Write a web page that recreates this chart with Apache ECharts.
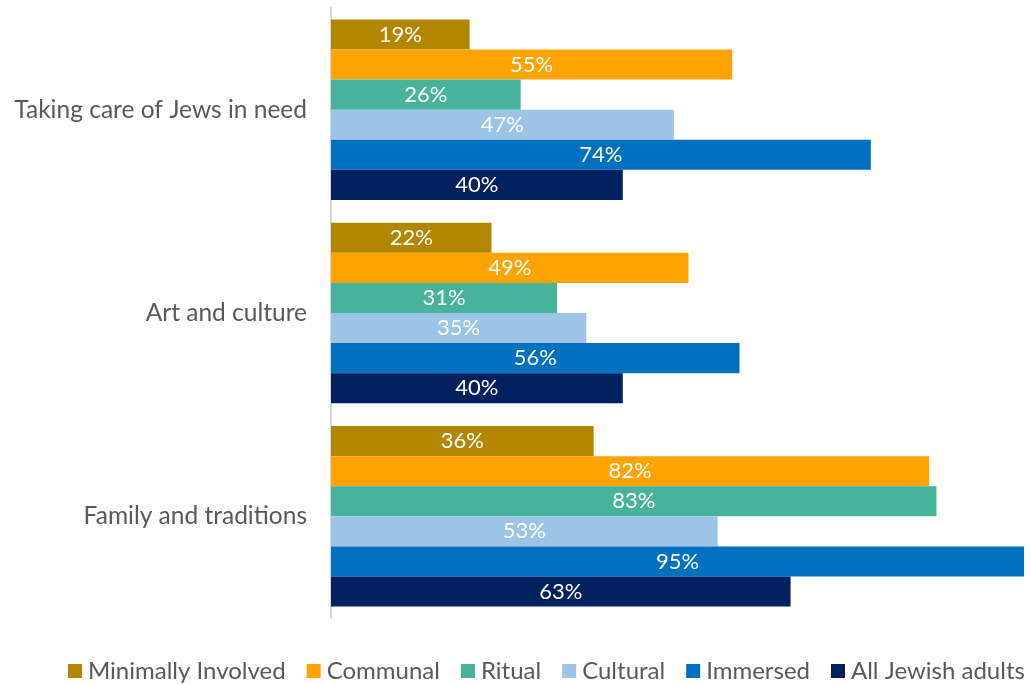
<!DOCTYPE html>
<html>
<head>
<meta charset="utf-8">
<script src="https://cdn.jsdelivr.net/npm/echarts@6/dist/echarts.min.js"></script>
<style>
  html, body { margin: 0; padding: 0; background: #fff; }
  #chart { width: 1031px; height: 685px; }
</style>
</head>
<body>
<div id="chart"></div>
<script>
// Categories (top to bottom)
const categories = ['Taking care of Jews in need', 'Art and culture', 'Family and traditions'];

// Series values (%) per category
const minimallyInvolved = [19, 22, 36];
const communal = [55, 49, 82];
const ritual = [26, 31, 83];
const cultural = [47, 35, 53];
const immersed = [74, 56, 95];
const allJewishAdults = [40, 40, 63];

const seriesNames = ['Minimally Involved', 'Communal', 'Ritual', 'Cultural', 'Immersed', 'All Jewish adults'];
const seriesData = [minimallyInvolved, communal, ritual, cultural, immersed, allJewishAdults];
const seriesColors = ['#B38600', '#FFA300', '#48B39B', '#9DC3E6', '#0070C0', '#002060'];

const FONT = 'Lato, "Open Sans", sans-serif';

const chart = echarts.init(document.getElementById('chart'), null, { renderer: 'canvas' });

chart.setOption({
  animation: false,
  textStyle: { fontFamily: FONT },
  color: seriesColors,
  grid: { left: 331, right: 7, top: 8, bottom: 67, containLabel: false },
  legend: {
    data: seriesNames,
    left: 63,
    top: 654,
    itemWidth: 14,
    itemHeight: 14,
    itemGap: 21,
    icon: 'rect',
    textStyle: { color: '#595959', fontSize: 24, fontFamily: FONT, padding: [0, 0, 0, 1] }
  },
  xAxis: {
    type: 'value',
    min: 0,
    max: 95,
    show: false
  },
  yAxis: {
    type: 'category',
    data: categories,
    inverse: true,
    axisLine: { show: true, lineStyle: { color: '#D9D9D9', width: 2 } },
    axisTick: { show: false },
    axisLabel: { color: '#595959', fontSize: 24.5, fontFamily: FONT, margin: 24 }
  },
  series: seriesNames.map((name, i) => ({
    name,
    type: 'bar',
    data: seriesData[i],
    barGap: '0%',
    barCategoryGap: '11.2%',
    itemStyle: { color: seriesColors[i] },
    label: {
      show: true,
      position: 'inside',
      color: '#fff',
      fontSize: 22,
      fontFamily: FONT,
      formatter: p => p.value + '%'
    }
  }))
});
</script>
</body>
</html>
